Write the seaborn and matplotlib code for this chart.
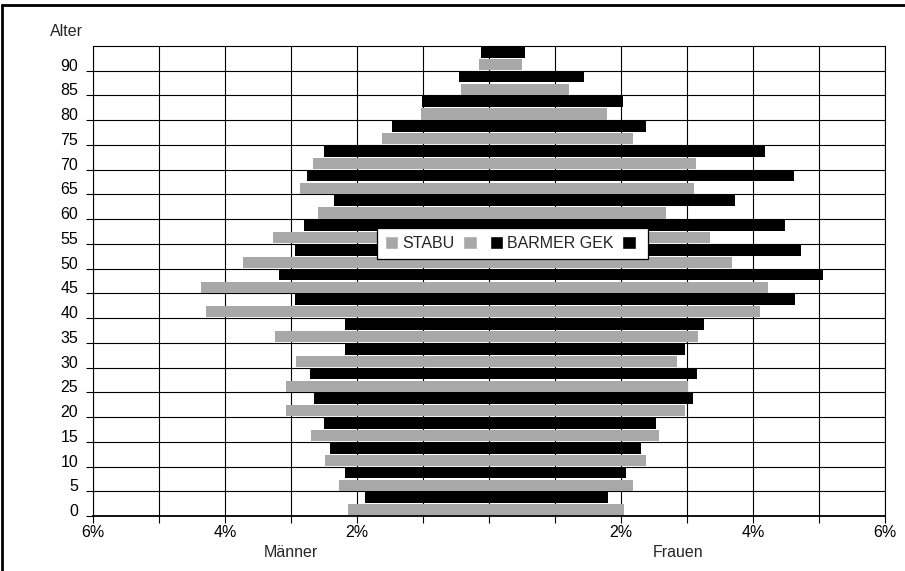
import numpy as np
import pandas as pd
import seaborn as sns
import matplotlib.pyplot as plt
from matplotlib.patches import Patch
from matplotlib.lines import Line2D

# Daten (Anteile in %)
alter = [0, 5, 10, 15, 20, 25, 30, 35, 40, 45, 50, 55, 60, 65, 70, 75, 80, 85, 90]
maenner_barmer = [1.88, 2.18, 2.41, 2.51, 2.66, 2.72, 2.19, 2.18, 2.94, 3.18,
                  2.94, 2.81, 2.35, 2.76, 2.51, 1.47, 1.02, 0.46, 0.13]
maenner_stabu = [2.14, 2.28, 2.49, 2.70, 3.08, 3.08, 2.93, 3.25, 4.29, 4.37,
                 3.73, 3.28, 2.60, 2.87, 2.67, 1.63, 1.04, 0.43, 0.16]
frauen_barmer = [1.80, 2.07, 2.30, 2.53, 3.08, 3.14, 2.97, 3.26, 4.63, 5.05,
                 4.73, 4.48, 3.73, 4.62, 4.18, 2.37, 2.02, 1.44, 0.54]
frauen_stabu = [2.04, 2.17, 2.37, 2.57, 2.97, 3.01, 2.85, 3.16, 4.10, 4.22,
                3.67, 3.35, 2.67, 3.10, 3.13, 2.17, 1.79, 1.21, 0.49]
quellen = ["BARMER GEK", "STABU"]
farben = {"BARMER GEK": "#000000", "STABU": "#a8a8a8"}

FS = 11.5

sns.set_theme(style="ticks")
plt.rcParams["font.family"] = ["Liberation Sans", "DejaVu Sans"]
plt.rcParams["font.size"] = FS

labels = [str(a) for a in alter]
order = labels[::-1]

df_m = pd.DataFrame({
    "alter": labels * 2,
    "wert": [-v for v in maenner_barmer] + [-v for v in maenner_stabu],
    "quelle": ["BARMER GEK"] * len(alter) + ["STABU"] * len(alter),
})
df_f = pd.DataFrame({
    "alter": labels * 2,
    "wert": frauen_barmer + frauen_stabu,
    "quelle": ["BARMER GEK"] * len(alter) + ["STABU"] * len(alter),
})

fig = plt.figure(figsize=(9.05, 5.71), dpi=100)
ax = fig.add_axes([93.3 / 905, 55 / 571, 792 / 905, 470 / 571])

for df in (df_m, df_f):
    sns.barplot(data=df, x="wert", y="alter", hue="quelle", order=order,
                hue_order=quellen, palette=farben, orient="h", width=1.0,
                gap=0.1, saturation=1, errorbar=None, legend=False, ax=ax,
                linewidth=0)

n = len(alter)
ax.set_ylim(n - 0.5, -0.5)
ax.set_xlim(-6, 6)

# x-Achse
xt = list(range(-6, 7))
ax.set_xticks(xt)
ax.set_xticklabels([f"{abs(v)}%" if v % 2 == 0 and v != 0 else "" for v in xt])
# y-Achse: Beschriftung an der Unterkante jeder Altersgruppe
ax.set_yticks([k + 0.5 for k in range(n)])
ax.set_yticklabels(order, va="baseline")
ax.tick_params(axis="y", length=5, width=0.8, pad=6, colors="black", labelsize=FS)
ax.tick_params(axis="x", length=5, width=0.8, pad=1.5, colors="black", labelsize=FS)

ax.set_xlabel("")
ax.set_ylabel("")
ax.grid(True, color="black", linewidth=0.8)
ax.set_axisbelow(True)
for s in ax.spines.values():
    s.set_color("black")
    s.set_linewidth(0.8)
ax.spines["bottom"].set_linewidth(1.3)

# Legende
handles = [Patch(facecolor=farben["STABU"]), Patch(facecolor=farben["STABU"]),
           Patch(facecolor=farben["BARMER GEK"]), Patch(facecolor=farben["BARMER GEK"])]
leg = ax.legend(handles, ["STABU", "", "BARMER GEK", ""], ncol=4,
                loc="center", bbox_to_anchor=(0.529, 0.579), frameon=True,
                fancybox=False, framealpha=1, edgecolor="black",
                handlelength=0.85, handleheight=0.85, handletextpad=0.25,
                columnspacing=0.55, borderpad=0.5, fontsize=FS)
leg.get_frame().set_linewidth(0.9)

trans = ax.get_xaxis_transform()
ax.text(-3.0, -0.077, "Männer", transform=trans, ha="center", va="center", fontsize=FS)
ax.text(2.86, -0.077, "Frauen", transform=trans, ha="center", va="center", fontsize=FS)
fig.text(83 / 905, 1 - 32 / 571, "Alter", ha="right", va="center", fontsize=FS)

# Rahmen um die Grafik
fig.add_artist(Line2D([0.002, 1], [1 - 5 / 571, 1 - 5 / 571], color="black",
                      linewidth=2, transform=fig.transFigure))
fig.add_artist(Line2D([0.002, 0.002], [0, 1 - 5 / 571], color="black",
                      linewidth=2, transform=fig.transFigure))

fig.savefig("out.png", dpi=100)
